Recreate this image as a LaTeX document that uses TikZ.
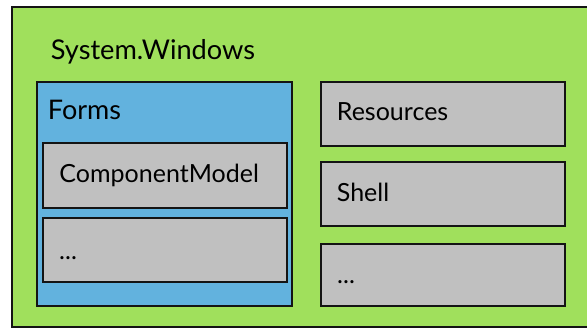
\documentclass[tikz,border=0pt]{standalone}
\usepackage{fontspec}
\setmainfont{Lato}
\definecolor{nsgreen}{RGB}{160,224,92}
\definecolor{nsblue}{RGB}{98,178,222}
\definecolor{nsgray}{RGB}{192,192,192}
\definecolor{nsline}{RGB}{20,20,20}
\begin{document}
\begin{tikzpicture}[x=1pt,y=-1pt,
  panel/.style={draw=nsline,line width=2pt,anchor=north west,inner sep=0pt,outer sep=0pt},
  greenpanel/.style={panel,fill=nsgreen},
  bluepanel/.style={panel,fill=nsblue},
  graypanel/.style={panel,fill=nsgray},
  caption/.style={anchor=base west,inner sep=0pt,text=black},
  bigcap/.style={caption,font=\fontsize{27.2}{31}\selectfont},
  midcap/.style={caption,font=\fontsize{27}{31}\selectfont},
  smallcap/.style={caption,font=\fontsize{25}{29}\selectfont}]
\useasboundingbox (0,0) rectangle (587,329);
\begin{scope}
\clip (0,0) rectangle (587,329);
% System.Windows namespace
\node[greenpanel,minimum width=600,minimum height=319.7] (win) at (12,7) {};
\end{scope}
\node[bigcap] (winlbl) at (50.7,60) {System.Windows};
% Forms namespace
\node[bluepanel,minimum width=255.6,minimum height=224.3] (forms) at (36.7,81.7) {};
\node[midcap] (formslbl) at (47.7,120) {Forms};
\node[graypanel,minimum width=244,minimum height=64.4] (cm) at (43.3,143.3) {};
\node[smallcap] (cmlbl) at (59.3,182.7) {ComponentModel};
\node[graypanel,minimum width=244,minimum height=64.6] (fmore) at (43.3,217.7) {};
\node[smallcap] (fmorelbl) at (59,259) {...};
% sibling namespaces
\node[graypanel,minimum width=244,minimum height=64.3] (res) at (321,81.7) {};
\node[smallcap] (reslbl) at (336.7,120.7) {Resources};
\node[graypanel,minimum width=244,minimum height=64] (shell) at (321,162) {};
\node[smallcap] (shelllbl) at (336.7,201.7) {Shell};
\node[graypanel,minimum width=244,minimum height=62] (wmore) at (321,244) {};
\node[smallcap] (wmorelbl) at (337,283) {...};
\end{tikzpicture}
\end{document}
